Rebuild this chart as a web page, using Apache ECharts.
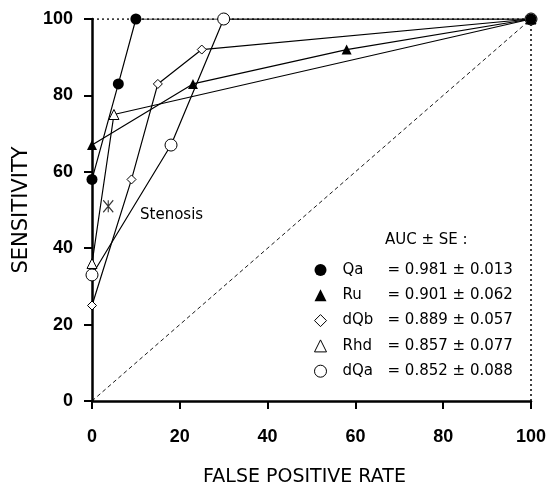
<!DOCTYPE html>
<html>
<head>
<meta charset="utf-8">
<script src="https://cdn.jsdelivr.net/npm/echarts@6/dist/echarts.min.js"></script>
<style>
  html, body { margin: 0; padding: 0; background: #fff; }
  #main { width: 551px; height: 489px; }
</style>
</head>
<body>
<div id="main"></div>
<script>
// ROC curves, false positive rate (x) vs sensitivity (y)
var qaFpr = [0, 6, 10, 100];
var qaSens = [58, 83, 100, 100];
var ruFpr = [0, 23, 58, 100];
var ruSens = [67, 83, 92, 100];
var dqbFpr = [0, 9, 15, 25, 100];
var dqbSens = [25, 58, 83, 92, 100];
var rhdFpr = [0, 5, 100];
var rhdSens = [36, 75, 100];
var dqaFpr = [0, 18, 30, 100];
var dqaSens = [33, 67, 100, 100];
var stenosisPoint = [3.7, 51];

var names = ["Qa", "Ru", "dQb", "Rhd", "dQa"];
var auc = ["0.981", "0.901", "0.889", "0.857", "0.852"];
var se = ["0.013", "0.062", "0.057", "0.077", "0.088"];
var axisTicks = [0, 20, 40, 60, 80, 100];

function pairs(xs, ys) {
  var out = [];
  for (var i = 0; i < xs.length; i++) out.push([xs[i], ys[i]]);
  return out;
}

var font = "DejaVu Sans";
var filled = { color: "#000" };
var open = { color: "#fff", borderColor: "#000", borderWidth: 1 };

function curve(name, data, symbol, size, style) {
  return {
    name: name,
    type: "line",
    data: data,
    symbol: symbol,
    symbolSize: size,
    showAllSymbol: true,
    lineStyle: { color: "#000", width: 1.2 },
    itemStyle: style,
    animation: false,
    emphasis: { disabled: true }
  };
}

var chart = echarts.init(document.getElementById("main"));
var option = {
  backgroundColor: "#fff",
  animation: false,
  grid: { left: 92, right: 20, top: 19, bottom: 88, outerBoundsMode: "none", containLabel: false },
  xAxis: {
    type: "value",
    min: axisTicks[0],
    max: axisTicks[axisTicks.length - 1],
    interval: 20,
    name: "FALSE POSITIVE RATE",
    nameLocation: "middle",
    nameGap: 67,
    nameTextStyle: { fontFamily: font, fontSize: 19, color: "#000", padding: [0, 14, 0, 0] },
    axisLine: { lineStyle: { color: "#000", width: 2.5 } },
    axisTick: { show: true, inside: false, length: 8, lineStyle: { color: "#000", width: 2 } },
    axisLabel: { margin: 27, color: "#000", fontFamily: "Liberation Sans", fontWeight: "bold", fontSize: 18 },
    splitLine: { show: false }
  },
  yAxis: {
    type: "value",
    min: axisTicks[0],
    max: axisTicks[axisTicks.length - 1],
    interval: 20,
    name: "SENSITIVITY",
    nameLocation: "middle",
    nameGap: 59,
    nameRotate: 90,
    nameTextStyle: { fontFamily: font, fontSize: 21, color: "#000" },
    axisLine: { lineStyle: { color: "#000", width: 2.5 } },
    axisTick: { show: true, inside: false, length: 8, lineStyle: { color: "#000", width: 2 } },
    axisLabel: { margin: 19, color: "#000", fontFamily: "Liberation Sans", fontWeight: "bold", fontSize: 18 },
    splitLine: { show: false }
  },
  legend: {
    orient: "vertical",
    left: 309,
    top: 256,
    itemWidth: 12,
    itemHeight: 12,
    itemGap: 7.3,
    selectedMode: false,
    data: [
      { name: "Qa", icon: "circle", itemStyle: filled },
      { name: "Ru", icon: "triangle", itemStyle: filled },
      { name: "dQb", icon: "diamond", itemStyle: open },
      { name: "Rhd", icon: "triangle", itemStyle: open },
      { name: "dQa", icon: "circle", itemStyle: open }
    ],
    formatter: function (name) {
      var i = names.indexOf(name);
      return "{n|" + name + "}{v|= " + auc[i] + " ± " + se[i] + "}";
    },
    textStyle: {
      fontFamily: font,
      fontSize: 15,
      color: "#000",
      lineHeight: 18,
      rich: {
        n: { fontFamily: font, fontSize: 15, width: 45, padding: [0, 0, 0, 11] },
        v: { fontFamily: font, fontSize: 15 }
      }
    }
  },
  graphic: [
    { type: "text", left: 385, top: 233, style: { text: "AUC ± SE :", font: "15px DejaVu Sans", fill: "#000" } },
    { type: "text", left: 140, top: 208, style: { text: "Stenosis", font: "15px DejaVu Sans", fill: "#000" } }
  ],
  series: [
    {
      name: "chance",
      type: "line",
      data: [[0, 0], [100, 100]],
      symbol: "none",
      lineStyle: { color: "#000", width: 0.9, type: [4, 3] },
      silent: true
    },
    {
      name: "frameTop",
      type: "line",
      data: [[0, 100], [100, 100]],
      symbol: "none",
      lineStyle: { color: "#000", width: 1.5, type: [2, 3] },
      silent: true
    },
    {
      name: "frameRight",
      type: "line",
      data: [[100, 0], [100, 100]],
      symbol: "none",
      lineStyle: { color: "#000", width: 1.5, type: [2, 3] },
      silent: true
    },
    curve("dQa", pairs(dqaFpr, dqaSens), "circle", 12, open),
    curve("Rhd", pairs(rhdFpr, rhdSens), "triangle", 10, open),
    curve("dQb", pairs(dqbFpr, dqbSens), "diamond", 9, open),
    curve("Ru", pairs(ruFpr, ruSens), "triangle", 10, filled),
    curve("Qa", pairs(qaFpr, qaSens), "circle", 11, filled),
    {
      name: "Stenosis",
      type: "scatter",
      data: [stenosisPoint],
      symbol: "path://M0,0 L10,12 M10,0 L0,12 M5,0 L5,12",
      symbolSize: [10, 12],
      itemStyle: { color: "none", borderColor: "#000", borderWidth: 1.2 },
      silent: true
    }
  ]
};
chart.setOption(option);
</script>
</body>
</html>
